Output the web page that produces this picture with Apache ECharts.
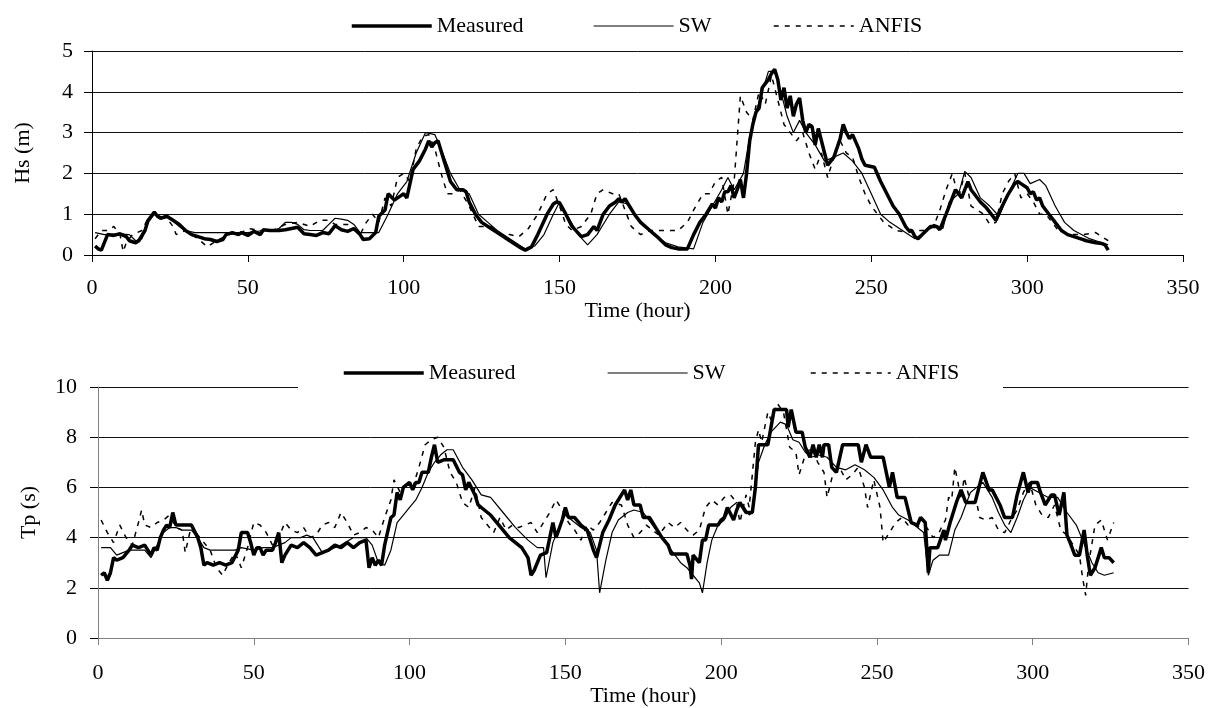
<!DOCTYPE html>
<html>
<head>
<meta charset="utf-8">
<script src="https://cdn.jsdelivr.net/npm/echarts@6/dist/echarts.min.js"></script>
<style>
html,body{margin:0;padding:0;background:#fff;}
#c{width:1208px;height:708px;}
</style>
</head>
<body>
<div id="c"></div>
<script>
// ---------- DATA (hour, value) ----------
const xTicks = [0, 50, 100, 150, 200, 250, 300, 350];
const seriesNames = ['Measured', 'SW', 'ANFIS'];

const hsMeasured = [[1,0.22],[2,0.15],[3,0.12],[5,0.5],[7,0.48],[9,0.52],[11,0.45],[12,0.35],[14,0.3],[15,0.35],[17,0.6],[18,0.85],[20,1.05],[21,0.95],[22,0.9],[24,0.95],[26,0.85],[28,0.75],[30,0.6],[32,0.5],[34,0.45],[36,0.4],[38,0.38],[40,0.33],[42,0.38],[43,0.5],[45,0.55],[47,0.5],[48,0.55],[50,0.48],[52,0.58],[54,0.5],[55,0.62],[57,0.6],[60,0.6],[62,0.62],[64,0.65],[66,0.68],[68,0.52],[70,0.5],[72,0.48],[74,0.55],[76,0.52],[78,0.72],[80,0.62],[82,0.58],[84,0.65],[86,0.5],[87,0.38],[89,0.4],[91,0.55],[92,0.95],[94,1.1],[95,1.5],[97,1.35],[99,1.45],[100,1.5],[101,1.4],[103,2.1],[105,2.3],[107,2.6],[108,2.8],[109,2.65],[110,2.75],[111,2.8],[113,2.3],[115,1.8],[117,1.6],[119,1.6],[120,1.55],[121,1.3],[123,1.0],[125,0.8],[128,0.65],[131,0.5],[134,0.35],[137,0.2],[139,0.12],[141,0.2],[143,0.5],[146,1.0],[148,1.25],[149,1.3],[150,1.28],[152,1.0],[154,0.7],[157,0.45],[159,0.5],[161,0.7],[162,0.6],[164,1.0],[166,1.2],[168,1.3],[169,1.38],[170,1.3],[171,1.38],[172,1.25],[174,1.0],[176,0.8],[179,0.6],[182,0.4],[184,0.25],[186,0.18],[188,0.15],[191,0.15],[193,0.5],[195,0.8],[197,1.0],[199,1.25],[200,1.15],[201,1.4],[202,1.3],[203,1.55],[204,1.55],[205,1.7],[206,1.4],[207,1.6],[208,1.85],[209,1.4],[210,2.0],[211,2.8],[212,3.2],[213,3.5],[214,3.6],[215,4.1],[216,4.2],[217,4.3],[218,4.45],[219,4.55],[220,4.3],[221,3.8],[222,4.1],[223,3.6],[224,3.9],[225,3.4],[226,3.7],[227,3.85],[228,3.3],[229,3.0],[230,3.2],[231,3.15],[232,2.7],[233,3.1],[234,2.8],[235,2.5],[236,2.2],[238,2.4],[240,2.85],[241,3.2],[242,3.0],[243,2.85],[244,2.95],[246,2.6],[247,2.35],[248,2.2],[251,2.15],[253,1.8],[255,1.5],[257,1.2],[259,1.0],[261,0.7],[262,0.6],[263,0.6],[264,0.45],[265,0.4],[267,0.55],[269,0.7],[271,0.7],[272,0.62],[274,1.0],[276,1.4],[277,1.6],[278,1.5],[279,1.4],[280,1.6],[281,1.8],[282,1.6],[283,1.5],[285,1.3],[287,1.15],[289,0.95],[290,0.85],[292,1.2],[294,1.5],[296,1.75],[297,1.8],[298,1.75],[300,1.65],[301,1.5],[302,1.55],[303,1.35],[304,1.4],[305,1.2],[307,1.0],[309,0.8],[311,0.6],[313,0.5],[315,0.45],[317,0.4],[319,0.35],[322,0.3],[324,0.28],[325,0.25],[326,0.12]];

const hsSW = [[1,0.55],[4,0.5],[8,0.52],[12,0.5],[14,0.35],[16,0.4],[18,0.8],[20,1.0],[22,0.95],[25,0.9],[28,0.7],[30,0.6],[33,0.55],[43,0.55],[46,0.55],[50,0.55],[55,0.6],[58,0.6],[60,0.65],[62,0.8],[64,0.8],[66,0.75],[68,0.62],[70,0.6],[74,0.6],[76,0.75],[78,0.9],[80,0.88],[82,0.85],[84,0.75],[86,0.55],[92,0.55],[95,1.0],[98,1.5],[101,1.8],[104,2.5],[107,3.0],[110,2.95],[112,2.6],[115,2.0],[118,1.6],[121,1.5],[124,1.0],[127,0.8],[130,0.6],[135,0.35],[139,0.15],[142,0.22],[145,0.5],[148,1.0],[150,1.3],[153,0.9],[156,0.5],[159,0.25],[162,0.5],[166,1.0],[169,1.3],[172,1.25],[176,0.8],[180,0.5],[184,0.3],[188,0.2],[193,0.15],[196,0.8],[199,1.2],[202,1.6],[204,1.9],[206,1.6],[209,2.0],[211,2.9],[213,3.5],[215,4.0],[217,4.5],[219,4.5],[221,4.0],[223,3.4],[225,3.0],[227,3.3],[229,3.0],[232,2.7],[235,2.3],[238,2.4],[241,2.5],[244,2.3],[247,2.0],[250,1.5],[253,1.0],[256,0.8],[260,0.6],[264,0.4],[267,0.55],[270,0.75],[273,0.65],[275,1.3],[278,1.5],[280,2.05],[282,1.9],[285,1.4],[288,1.2],[291,0.95],[294,1.5],[297,2.0],[299,2.0],[301,1.75],[304,1.85],[306,1.7],[309,1.2],[312,0.8],[315,0.6],[320,0.4],[324,0.3],[326,0.25]];

const hsANFIS = [[1,0.4],[3,0.6],[5,0.6],[7,0.7],[9,0.5],[10,0.08],[11,0.3],[13,0.5],[16,0.6],[18,0.9],[20,1.0],[22,0.9],[24,0.9],[26,0.7],[27,0.5],[30,0.6],[34,0.4],[37,0.2],[40,0.35],[44,0.5],[48,0.55],[50,0.65],[54,0.6],[58,0.6],[62,0.75],[66,0.8],[70,0.7],[73,0.85],[76,0.85],[78,0.75],[82,0.75],[86,0.5],[88,0.8],[90,1.0],[92,0.8],[94,1.4],[96,1.2],[98,1.9],[100,2.0],[102,1.8],[104,2.6],[106,2.9],[108,2.95],[110,2.6],[112,2.0],[114,1.5],[116,1.5],[118,1.6],[121,1.2],[124,0.7],[128,0.7],[131,0.5],[134,0.5],[137,0.45],[140,0.65],[143,1.0],[146,1.5],[148,1.6],[150,1.2],[152,0.75],[154,0.6],[157,0.7],[160,1.0],[162,1.5],[164,1.6],[167,1.5],[169,1.5],[171,1.1],[173,0.7],[176,0.5],[179,0.6],[182,0.6],[185,0.6],[188,0.6],[191,0.8],[193,1.1],[196,1.5],[198,1.5],[200,1.8],[202,1.9],[204,1.0],[206,1.8],[208,3.9],[210,3.5],[212,3.3],[214,4.0],[216,3.7],[218,4.4],[220,3.8],[222,3.2],[224,3.0],[226,2.8],[228,3.0],[230,2.5],[232,2.1],[234,2.5],[236,1.9],[238,2.4],[240,2.8],[242,2.5],[244,2.4],[246,1.9],[248,1.5],[250,1.2],[252,1.0],[254,0.8],[256,0.7],[258,0.6],[262,0.55],[265,0.6],[268,0.6],[270,0.7],[272,1.1],[274,1.6],[276,2.0],[278,1.4],[280,2.0],[282,1.2],[284,1.1],[286,1.0],[288,0.75],[290,0.8],[292,1.5],[294,1.8],[296,2.0],[298,1.4],[300,1.5],[302,1.3],[304,1.0],[306,1.0],[308,0.8],[310,0.6],[314,0.5],[318,0.5],[322,0.55],[326,0.35]];

const tpMeasured = [[1,2.5],[2,2.6],[3,2.3],[4,2.6],[5,3.2],[6,3.1],[8,3.2],[10,3.5],[11,3.7],[13,3.6],[15,3.7],[16,3.5],[17,3.3],[18,3.6],[19,3.5],[20,4.0],[21,4.3],[22,4.5],[23,4.4],[24,5.0],[25,4.5],[30,4.5],[32,4.0],[33,3.6],[34,2.9],[35,3.0],[37,2.9],[39,3.0],[41,2.9],[43,3.0],[45,3.5],[46,4.2],[48,4.2],[49,3.8],[50,3.3],[51,3.6],[52,3.6],[53,3.3],[54,3.5],[56,3.5],[57,3.8],[58,4.2],[59,3.0],[60,3.3],[62,3.7],[64,3.6],[66,3.8],[68,3.6],[70,3.3],[72,3.4],[74,3.5],[76,3.7],[78,3.6],[80,3.8],[82,3.6],[84,3.8],[86,3.9],[87,2.8],[88,3.2],[89,2.9],[90,3.1],[91,2.9],[92,3.7],[94,4.8],[95,4.9],[96,5.8],[97,5.5],[98,6.0],[100,6.2],[101,5.9],[102,6.2],[103,6.2],[104,6.6],[106,6.6],[107,7.2],[108,7.7],[109,7.0],[111,7.1],[114,7.1],[116,6.6],[117,6.5],[118,5.9],[119,6.2],[121,5.7],[122,5.3],[124,5.1],[126,4.9],[128,4.6],[130,4.3],[132,4.0],[134,3.8],[136,3.6],[138,3.2],[139,2.5],[140,2.7],[142,3.3],[144,3.4],[145,4.0],[146,4.6],[147,4.0],[149,4.7],[150,5.2],[151,4.8],[153,4.8],[155,4.5],[157,4.3],[159,3.5],[160,3.2],[162,4.2],[164,4.7],[166,5.3],[169,5.9],[170,5.5],[171,5.9],[172,5.3],[174,5.3],[175,4.8],[177,4.8],[179,4.4],[181,4.0],[183,3.7],[184,3.35],[189,3.35],[190,2.9],[190.5,2.35],[191,3.3],[193,3.0],[194,3.9],[195,3.9],[196,4.5],[199,4.5],[200,4.7],[201,4.8],[202,5.2],[204,4.7],[205,5.1],[206,5.4],[208,5.0],[210,5.0],[211,6.0],[212,7.7],[215,7.7],[217,9.1],[221,9.1],[221.5,8.4],[222.5,9.1],[224,8.2],[226,8.2],[227,7.6],[228.5,7.2],[229.5,7.7],[230.5,7.2],[231.5,7.7],[232.5,7.2],[233,7.7],[234.5,7.7],[235.5,6.8],[237,6.6],[239,7.7],[244,7.7],[245,7.0],[246.5,7.7],[248,7.2],[252,7.2],[254,6.0],[255,6.6],[256.5,5.6],[259,5.6],[261,4.6],[263,4.5],[264,4.8],[265.5,4.6],[266.5,2.6],[267,3.6],[269.5,3.6],[271.5,4.3],[272,3.9],[273.5,4.6],[275.5,5.4],[277,5.9],[278.5,5.4],[281.5,5.4],[284,6.6],[286,5.9],[287,5.9],[289.5,5.3],[291,4.8],[293.5,4.8],[295,5.7],[297,6.6],[298.5,5.8],[299.5,6.2],[301.5,6.2],[302.5,5.8],[304,5.3],[306,5.7],[307,5.7],[308.5,4.9],[310,5.8],[311,4.1],[312,3.8],[313.5,3.3],[315,3.3],[316.5,4.3],[317.5,3.3],[318.5,2.5],[320,2.8],[322,3.6],[323,3.2],[324.5,3.2],[326,3.0]];

const tpSW = [[1,3.6],[4,3.6],[6,3.3],[8,3.4],[10,3.5],[12,3.5],[15,3.5],[17,3.2],[19,3.7],[21,4.2],[23,4.4],[25,4.4],[27,4.3],[30,4.3],[32,4.0],[34,3.6],[36,3.5],[44,3.5],[46,3.6],[50,3.5],[53,3.6],[56,3.6],[60,3.8],[62,4.0],[65,4.0],[67,4.1],[69,4.0],[71,3.6],[72,3.4],[74,3.5],[78,3.7],[82,4.0],[86,4.0],[88,3.7],[90,3.0],[92,2.9],[94,3.5],[96,4.6],[98,4.9],[100,5.2],[102,5.5],[104,6.0],[106,6.6],[108,7.0],[110,7.3],[112,7.5],[114,7.5],[117,6.8],[120,6.3],[123,5.7],[126,5.6],[130,5.0],[134,4.4],[138,3.9],[141,3.6],[143,3.6],[143.8,2.4],[146,3.8],[148,4.4],[150,4.9],[152,4.7],[155,4.4],[158,4.2],[160,3.5],[161,1.8],[163,3.1],[165,4.2],[167,4.7],[170,5.0],[172,5.1],[175,5.0],[178,4.5],[181,4.0],[184,3.5],[187,3.0],[189,2.8],[191,2.5],[193,2.2],[194,1.8],[195.5,3.0],[197,3.9],[199,4.5],[201,4.7],[203,5.2],[205,5.4],[207,5.3],[209,4.9],[210,5.0],[212,7.0],[214,7.7],[216,8.2],[219,8.6],[221,8.5],[223,7.9],[225,7.8],[227,7.4],[229,7.2],[231,7.3],[234,7.2],[237,6.8],[240,6.7],[243,6.9],[246,6.7],[249,6.4],[252,5.9],[255,5.2],[257,4.9],[260,4.7],[263,4.4],[265,4.2],[266.5,2.5],[268,3.1],[270,3.3],[273,3.3],[275,4.3],[277,4.8],[280,5.8],[282,6.0],[284,6.2],[287,5.6],[289,5.0],[291,4.5],[293,4.2],[295,4.8],[297,5.5],[299,6.0],[302,5.8],[305,5.6],[308,5.6],[311,5.0],[314,4.5],[317,3.6],[319,3.0],[321,2.6],[323,2.5],[326,2.6]];

const tpANFIS = [[1,4.7],[3,4.2],[5,3.8],[7,4.5],[9,4.0],[11,3.7],[13,4.6],[14,5.1],[15,4.5],[17,4.4],[19,4.6],[21,4.7],[23,4.9],[25,4.4],[27,4.3],[28,3.4],[30,4.5],[32,4.1],[34,3.8],[36,3.5],[38,2.8],[40,2.5],[42,3.0],[44,3.4],[46,2.8],[48,3.6],[50,4.6],[52,4.5],[54,4.2],[56,3.7],[58,4.0],[60,4.6],[62,4.3],[64,4.2],[66,4.4],[68,4.0],[70,4.1],[72,4.5],[74,4.6],[76,4.4],[78,5.0],[80,4.6],[82,4.1],[84,4.2],[86,4.4],[88,4.3],[90,4.0],[92,4.8],[94,5.5],[95,6.3],[97,5.8],[99,6.1],[101,6.0],[103,6.8],[105,7.7],[107,7.9],[109,8.0],[111,7.6],[113,6.6],[115,6.2],[117,5.4],[119,5.2],[121,6.0],[123,4.8],[125,4.5],[127,4.2],[129,4.8],[131,4.3],[133,4.5],[135,4.4],[137,4.5],[139,4.6],[141,4.2],[143,4.6],[145,5.0],[147,5.5],[149,5.1],[151,4.6],[153,4.3],[155,3.9],[157,4.5],[159,4.3],[161,4.6],[163,5.0],[165,5.4],[168,5.3],[170,4.5],[172,4.0],[174,4.2],[176,4.5],[178,4.3],[180,4.1],[183,4.6],[185,4.4],[187,4.6],[189,4.3],[191,4.1],[193,4.3],[195,5.2],[197,5.5],[199,5.3],[201,5.6],[203,5.7],[205,5.4],[206,4.6],[208,5.7],[209,5.2],[210,6.5],[211,7.8],[212,8.3],[213,7.8],[214,8.4],[215,9.0],[216,8.7],[218,9.35],[220,9.0],[222,7.6],[224,7.4],[225,6.5],[227,7.3],[229,7.6],[231,7.0],[233,6.6],[234,5.6],[236,6.6],[238,6.8],[240,6.3],[242,6.5],[244,6.8],[246,6.0],[247,5.2],[249,6.3],[251,5.2],[252,3.8],[254,4.2],[256,4.6],[258,4.8],[260,4.5],[262,4.5],[264,4.4],[266,4.4],[268,4.0],[270,4.2],[271,4.5],[272,4.7],[273,5.6],[274,5.5],[275,6.8],[276,6.2],[277,5.5],[278,6.4],[280,5.4],[282,5.4],[283,4.8],[285,4.7],[287,4.8],[289,4.3],[291,4.2],[293,4.7],[295,5.1],[297,5.8],[299,6.2],[301,5.3],[303,4.9],[305,4.8],[307,5.3],[309,4.3],[311,4.1],[313,3.7],[315,3.3],[316,2.4],[317,1.7],[318,3.0],[320,4.5],[322,4.7],[324,3.9],[326,4.6]];

// ---------- CHART ----------
const FONT = '"Liberation Serif", "Times New Roman", serif';
const txt = {fontFamily: FONT, fontSize: 22, color: '#000'};

function xAxis(gridIndex, axisColor, labelMargin, gap) {
  return {
    type: 'value', gridIndex, min: 0, max: 350, interval: 50,
    name: 'Time (hour)', nameLocation: 'middle', nameGap: gap,
    nameTextStyle: txt,
    axisLine: {show: true, onZero: false, lineStyle: {color: axisColor, width: 1}},
    axisTick: {show: true, length: 7, inside: false, lineStyle: {color: axisColor}},
    axisLabel: Object.assign({margin: labelMargin}, txt),
    splitLine: {show: false}
  };
}
function yAxis(gridIndex, max, interval, name, axisColor, labelMargin) {
  return {
    type: 'value', gridIndex, min: 0, max, interval,
    name, nameLocation: 'middle', nameGap: 58, nameRotate: 90,
    nameTextStyle: txt,
    axisLine: {show: true, lineStyle: {color: axisColor, width: 1}},
    axisTick: {show: true, length: 8, lineStyle: {color: '#000'}},
    axisLabel: Object.assign({margin: labelMargin}, txt),
    splitLine: {show: true, lineStyle: {color: '#111', width: 1}}
  };
}
const styles = {
  Measured: {color: '#000', width: 3.5},
  SW: {color: '#000', width: 1.2},
  ANFIS: {color: '#000', width: 1.5, type: [5, 6]}
};
function line(name, data, idx) {
  return {
    name, type: 'line', data, xAxisIndex: idx, yAxisIndex: idx,
    symbol: 'none', showSymbol: false, silent: true, z: 3,
    lineStyle: styles[name], itemStyle: {color: '#000'}
  };
}
function legend(name, left, top) {
  return {
    data: [name], left, top, padding: 0, itemWidth: 80, itemHeight: 14,
    selectedMode: false, textStyle: txt,
    itemStyle: {opacity: 0, borderWidth: 0},
    lineStyle: Object.assign({}, styles[name])
  };
}

const chart = echarts.init(document.getElementById('c'), null, {renderer: 'canvas'});
chart.setOption({
  animation: false,
  backgroundColor: '#fff',
  grid: [
    {left: 92, top: 51, width: 1091, height: 204, containLabel: false},
    {left: 98, top: 387, width: 1091, height: 256, containLabel: false}
  ],
  xAxis: [xAxis(0, '#000', 22, 44), xAxis(1, '#808080', 24, 47)],
  yAxis: [yAxis(0, 5, 1, 'Hs (m)', '#000', 19), yAxis(1, 10, 2, 'Tp (s)', '#808080', 21)],
  legend: [
    legend('Measured', 350, 15), legend('SW', 593, 15), legend('ANFIS', 773, 15),
    legend('Measured', 342, 362), legend('SW', 607, 362), legend('ANFIS', 810, 362)
  ],
  graphic: [{
    type: 'rect', z: 1, silent: true,
    shape: {x: 298, y: 355, width: 705, height: 38},
    style: {fill: '#fff'}
  }],
  series: [
    line('Measured', hsMeasured, 0),
    line('SW', hsSW, 0),
    line('ANFIS', hsANFIS, 0),
    line('Measured', tpMeasured, 1),
    line('SW', tpSW, 1),
    line('ANFIS', tpANFIS, 1)
  ]
});
</script>
</body>
</html>
